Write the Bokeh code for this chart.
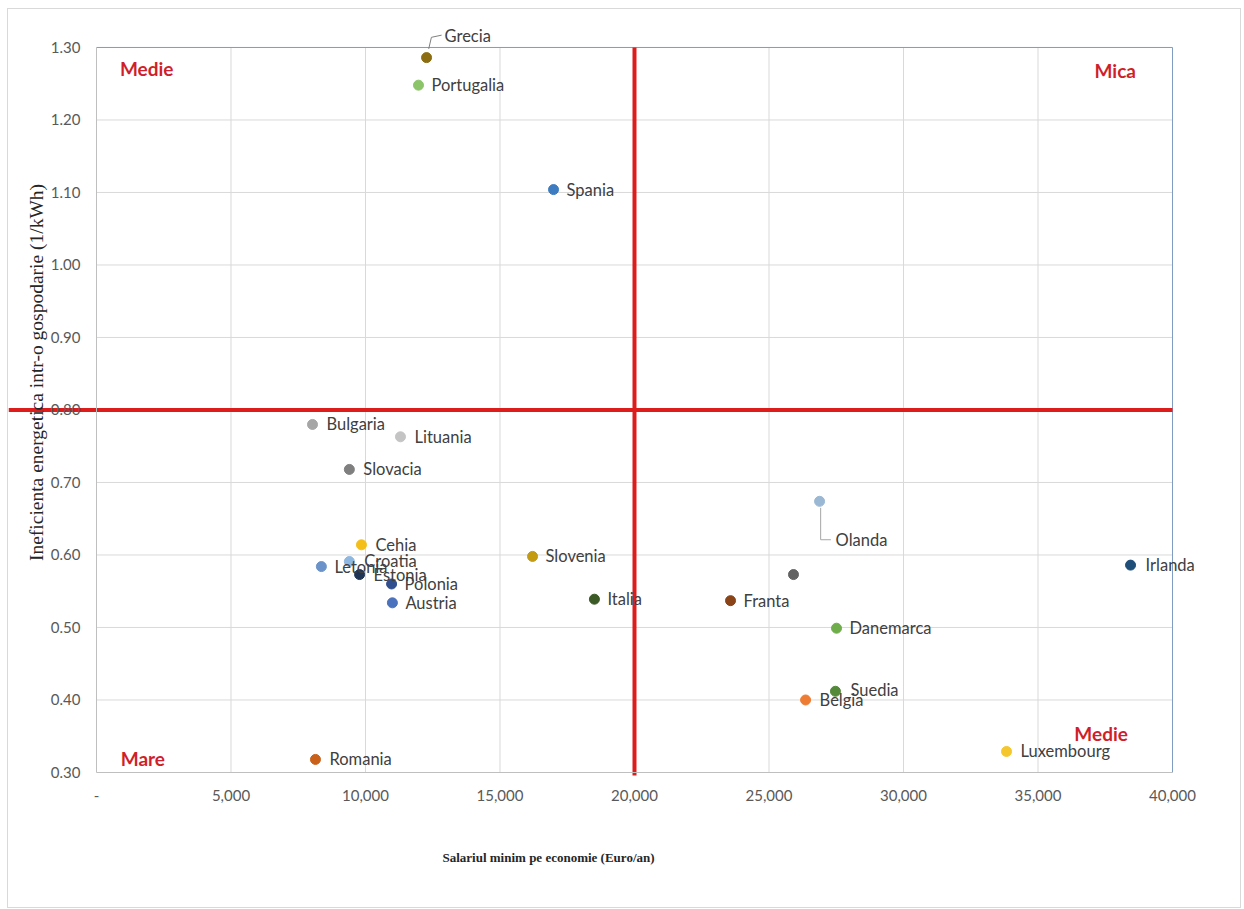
import math
from bokeh.plotting import figure
from bokeh.models import (ColumnDataSource, Range1d, Label, CustomJSTickFormatter,
                          FixedTicker)
from bokeh.core.properties import value
from bokeh.embed import file_html
from bokeh.resources import INLINE

# ---------------- data ----------------
countries = ["Grecia", "Portugalia", "Spania", "Bulgaria", "Lituania", "Slovacia",
             "Cehia", "Croatia", "Letonia", "Estonia", "Polonia", "Austria",
             "Slovenia", "Italia", "Franta", "", "Olanda", "Danemarca",
             "Irlanda", "Suedia", "Belgia", "Romania", "Luxembourg"]
salary = [12270, 11970, 16990, 8030, 11300, 9400,
          9850, 9400, 8360, 9780, 10970, 11000,
          16210, 18510, 23570, 25910, 26880, 27510,
          38440, 27470, 26360, 8140, 33830]
inefficiency = [1.286, 1.248, 1.104, 0.780, 0.763, 0.718,
                0.614, 0.591, 0.584, 0.573, 0.560, 0.534,
                0.598, 0.539, 0.537, 0.573, 0.674, 0.499,
                0.586, 0.412, 0.400, 0.318, 0.329]
colors = ["#8c6d12", "#8cc46a", "#3d7cc0", "#a6a6a6", "#c4c4c4", "#7f7f7f",
          "#f5bf1a", "#8fb8e0", "#6c93c9", "#1f3556", "#2f4f8f", "#4a72bd",
          "#c39a10", "#3b5a25", "#8a4417", "#636363", "#9ab8d4", "#6fad4a",
          "#1f4e79", "#55893a", "#ee7d33", "#c9611b", "#f5c72e"]
x_ticks = [0, 5000, 10000, 15000, 20000, 25000, 30000, 35000, 40000]
y_ticks = [0.3, 0.4, 0.5, 0.6, 0.7, 0.8, 0.9, 1.0, 1.1, 1.2, 1.3]
x_split = 20000
y_split = 0.80

# label offsets (screen px) for the country names
dx = [18, 13, 13, 14, 14, 14, 14, 15, 13, 14, 13, 13, 13, 13, 13, 0, 16, 13, 15, 15, 14, 14, 14]
dy = [-22, 0, 0, 0, 0, 0, 0, 0, 0, 0, 0, 0, 0, 0, 0, 0, 39, 0, 0, -1, 0, 0, 0]

src = ColumnDataSource(dict(x=salary, y=inefficiency, c=colors, name=countries,
                            dx=dx, dy=dy))

x0, x1 = x_ticks[0], x_ticks[-1]
y0, y1 = y_ticks[0], y_ticks[-1]
# the visible frame is larger than the plotting area, so that texts around it show
W, H = 1234, 900
p = figure(width=W, height=H, output_backend="svg", toolbar_location=None,
           x_range=Range1d(-3271, 41561), y_range=Range1d(0.1579, 1.3372),
           min_border_left=0, min_border_right=28, min_border_top=11,
           min_border_bottom=34)
p.styles = {"border": "1px solid #d9d9d9", "margin-left": "7px", "margin-top": "8px"}
p.outline_line_color = None
p.xgrid.visible = False
p.ygrid.visible = False

# grid lines of the plotting area
p.segment(x0=x_ticks[1:-1], y0=[y0] * (len(x_ticks) - 2), x1=x_ticks[1:-1], y1=[y1] * (len(x_ticks) - 2),
          line_color="#d9d9d9", line_width=1)
p.segment(x0=[x0] * (len(y_ticks) - 2), y0=y_ticks[1:-1], x1=[x1] * (len(y_ticks) - 2), y1=y_ticks[1:-1],
          line_color="#d9d9d9", line_width=1)
# plot-area border (top and right)
p.segment(x0=[x0, x1], y0=[y1, y0], x1=[x1, x1], y1=[y1, y1], line_color="#7f9cc2", line_width=1)

p.xaxis.ticker = FixedTicker(ticks=x_ticks)
p.yaxis.ticker = FixedTicker(ticks=y_ticks)
p.xaxis.bounds = (x0, x1)
p.yaxis.bounds = (y0, y1)
p.yaxis.fixed_location = x0
p.xaxis.fixed_location = y0
p.xaxis.formatter = CustomJSTickFormatter(
    code="return tick == 0 ? '-' : Math.round(tick).toLocaleString('en-US');")
p.yaxis.formatter = CustomJSTickFormatter(code="return tick.toFixed(2);")
for ax in (p.xaxis, p.yaxis):
    ax.major_tick_line_color = None
    ax.minor_tick_line_color = None
    ax.axis_line_color = "#bfbfbf"
    ax.major_label_text_font = "Lato"
    ax.major_label_text_font_size = "15px"
    ax.major_label_text_color = "#595959"
p.xaxis.major_label_standoff = 12
p.yaxis.major_label_standoff = 10

# red quadrant lines
p.segment(x0=[x_split], y0=[y0 - 0.004], x1=[x_split], y1=[y1], line_color="#dd1c1c", line_width=4)
p.segment(x0=[-3271], y0=[y_split], x1=[x1], y1=[y_split], line_color="#dd1c1c", line_width=4)

# leader lines (Grecia, Olanda)
gi, oi = countries.index("Grecia"), countries.index("Olanda")
p.segment(x0=[salary[gi] + 80, salary[gi] + 180], y0=[inefficiency[gi] + 0.012, inefficiency[gi] + 0.028],
          x1=[salary[gi] + 180, salary[gi] + 560], y1=[inefficiency[gi] + 0.028, inefficiency[gi] + 0.031],
          line_color="#7f7f7f", line_width=1)
p.segment(x0=[salary[oi] + 40, salary[oi] + 40], y0=[inefficiency[oi] - 0.009, inefficiency[oi] - 0.053],
          x1=[salary[oi] + 40, salary[oi] + 420], y1=[inefficiency[oi] - 0.053, inefficiency[oi] - 0.053],
          line_color="#a6a6a6", line_width=1)

p.scatter("x", "y", source=src, size=10, fill_color="c", line_color="c")
p.text("x", "y", text="name", source=src, x_offset="dx", y_offset="dy",
       text_font=value("Lato"), text_font_size="16.5px", text_color="#404040",
       text_baseline="middle", text_align="left")

# quadrant labels
for txt, xx, yy in [("Medie", 870, 1.271), ("Mica", 37100, 1.268),
                    ("Mare", 900, 0.319), ("Medie", 36350, 0.354)]:
    p.add_layout(Label(x=xx, y=yy, text=txt, text_font="Lato", text_font_style="bold",
                       text_font_size="19px", text_color="#d01f2a", text_baseline="middle"))

# axis titles (placed like the original, not centered)
p.add_layout(Label(x=540, y=18, x_units="screen", y_units="screen",
                   text="Salariul minim pe economie (Euro/an)",
                   text_font="Liberation Serif", text_font_style="bold",
                   text_font_size="13px", text_color="#262626",
                   text_align="center", text_baseline="middle"))
p.add_layout(Label(x=28, y=503, x_units="screen", y_units="screen", angle=math.pi / 2,
                   text="Ineficienta energetica intr-o gospodarie (1/kWh)",
                   text_font="Liberation Serif", text_font_size="19.5px", text_color="#262626",
                   text_align="center", text_baseline="middle"))

open("out.html", "w").write(file_html(p, INLINE))
